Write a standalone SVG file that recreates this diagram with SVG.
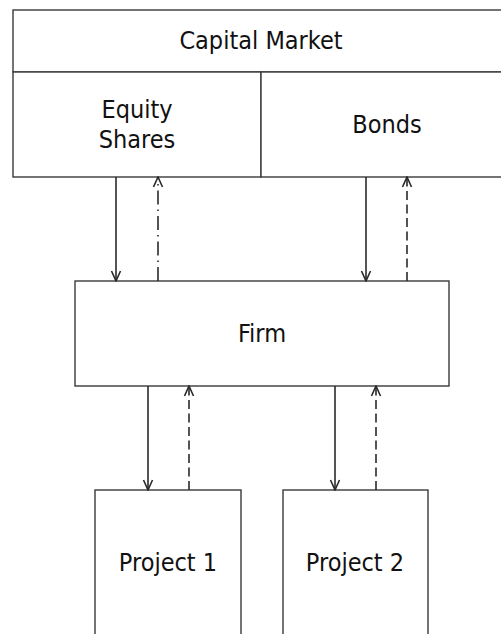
<svg xmlns="http://www.w3.org/2000/svg" width="501" height="634" viewBox="0 0 501 634">
<style>
.box{fill:#fff;stroke:#3a3a3a;stroke-width:1.4}
.t{font-family:"DejaVu Sans Condensed","DejaVu Sans",sans-serif;font-stretch:condensed;font-size:25px;fill:#111;text-anchor:middle}
.c{stroke:#2a2a2a;stroke-width:1.6;fill:none}
.dash{stroke-dasharray:9 4.5}
.dashdot{stroke-dasharray:14 5 1.5 5}
</style>
<defs>
<marker id="ah" viewBox="0 0 12 12" refX="11" refY="6" markerWidth="12" markerHeight="12" markerUnits="userSpaceOnUse" orient="auto">
<path d="M1,1.5 L11,6 L1,10.5" fill="none" stroke="#2a2a2a" stroke-width="1.6"/>
</marker>
</defs>
<rect width="501" height="634" fill="#fff"/>
<g id="capital-market">
<rect class="box" x="13" y="10" width="510" height="62"/>
<text class="t" x="261" y="49">Capital Market</text>
</g>
<g id="equity-shares">
<rect class="box" x="13" y="72" width="248" height="105"/>
<text class="t" x="137" y="118">Equity</text>
<text class="t" x="137" y="148">Shares</text>
</g>
<g id="bonds">
<rect class="box" x="261" y="72" width="262" height="105"/>
<text class="t" x="387" y="133">Bonds</text>
</g>
<g id="firm">
<rect class="box" x="75" y="281" width="374" height="105"/>
<text class="t" x="262" y="342">Firm</text>
</g>
<g id="project-1">
<rect class="box" x="95" y="490" width="146" height="160"/>
<text class="t" x="168" y="571">Project 1</text>
</g>
<g id="project-2">
<rect class="box" x="283" y="490" width="145" height="160"/>
<text class="t" x="355" y="571">Project 2</text>
</g>
<g id="connectors">
<line class="c" x1="116" y1="177" x2="116" y2="281" marker-end="url(#ah)"/>
<line class="c dashdot" x1="158" y1="281" x2="158" y2="177" marker-end="url(#ah)"/>
<line class="c" x1="366" y1="177" x2="366" y2="281" marker-end="url(#ah)"/>
<line class="c dash" x1="407" y1="281" x2="407" y2="177" marker-end="url(#ah)"/>
<line class="c" x1="148" y1="386" x2="148" y2="490" marker-end="url(#ah)"/>
<line class="c dash" x1="189" y1="490" x2="189" y2="386" marker-end="url(#ah)"/>
<line class="c" x1="335" y1="386" x2="335" y2="490" marker-end="url(#ah)"/>
<line class="c dash" x1="376" y1="490" x2="376" y2="386" marker-end="url(#ah)"/>
</g>
</svg>
